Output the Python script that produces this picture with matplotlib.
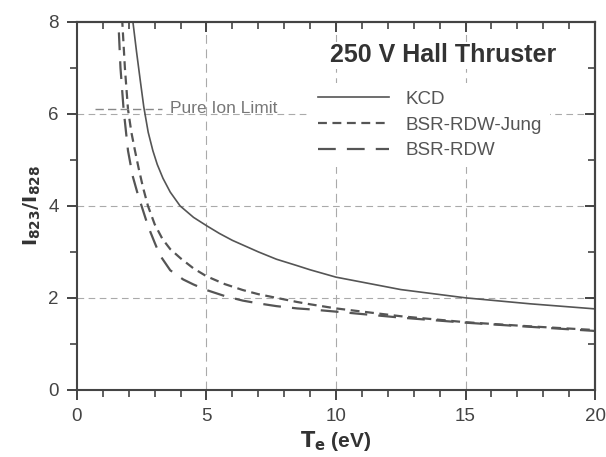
import matplotlib

matplotlib.use('Agg')
import matplotlib.pyplot as plt

plt.rcParams['font.family'] = ['Liberation Sans', 'DejaVu Sans']

# values
te_kcd = [2.08, 2.16, 2.3, 2.45, 2.58, 2.75, 2.93, 3.1, 3.32, 3.6, 3.98, 4.5, 5.0, 5.5, 6.0,
          7.0, 7.7, 8.5, 9.0, 10.0, 12.5, 15.0, 17.5, 20.0]
r_kcd = [8.4, 8.0, 7.35, 6.7, 6.15, 5.6, 5.2, 4.9, 4.6, 4.3, 4.0, 3.75, 3.57, 3.4, 3.25,
         3.0, 2.84, 2.7, 2.61, 2.45, 2.18, 2.0, 1.87, 1.76]

te_jung = [1.71, 1.75, 1.85, 1.97, 2.1, 2.24, 2.38, 2.55, 2.74, 3.0, 3.3, 3.6, 4.0, 4.5,
           5.0, 5.7, 6.4, 7.0, 7.7, 8.5, 9.0, 10.0, 12.5, 15.0, 17.5, 20.0]
r_jung = [8.4, 8.0, 7.0, 6.1, 5.6, 5.2, 4.82, 4.4, 4.0, 3.6, 3.28, 3.06, 2.86, 2.64,
          2.47, 2.3, 2.17, 2.08, 2.0, 1.91, 1.86, 1.77, 1.6, 1.47, 1.38, 1.30]

te_bsr = [1.57, 1.60, 1.68, 1.80, 1.97, 2.15, 2.35, 2.55, 2.75, 3.0, 3.2, 3.6, 4.1, 4.5,
          5.0, 5.7, 6.4, 7.0, 7.7, 8.5, 9.0, 10.0, 12.5, 15.0, 17.5, 20.0]
r_bsr = [8.4, 8.0, 7.0, 6.1, 5.2, 4.65, 4.25, 3.9, 3.55, 3.2, 2.93, 2.6, 2.40, 2.29,
         2.17, 2.04, 1.94, 1.88, 1.82, 1.77, 1.75, 1.70, 1.57, 1.46, 1.37, 1.28]

ion_te = [0.7, 3.3]
ion_r = [6.1, 6.1]

x_ticks = [0, 5, 10, 15, 20]
y_ticks = [0, 2, 4, 6, 8]

fig = plt.figure(figsize=(6.06, 4.57), dpi=100)
ax = fig.add_axes([0.127, 0.147, 0.855, 0.805])

ax.set_xlim(0, 20)
ax.set_ylim(0, 8)
ax.set_xticks(x_ticks)
ax.set_yticks(y_ticks)
ax.set_xticks(range(0, 21), minor=True)
ax.set_yticks(range(0, 9), minor=True)

for v in [5, 10, 15]:
    ax.axvline(v, color='#aaaaaa', lw=0.8, ls=(0, (8, 5)), zorder=0)
for v in [2, 4, 6]:
    ax.axhline(v, color='#aaaaaa', lw=0.8, ls=(0, (6, 4)), zorder=0)

dark = '#555555'
ax.plot(te_kcd, r_kcd, color=dark, lw=1.2, label='KCD')
ax.plot(te_jung, r_jung, color=dark, lw=1.6, ls=(0, (4, 2.5)), label='BSR-RDW-Jung')
ax.plot(te_bsr, r_bsr, color=dark, lw=1.6, ls=(0, (8, 5)), label='BSR-RDW')

ax.plot(ion_te, ion_r, color='#888888', lw=1.0, ls=(0, (6, 3)))
ax.text(3.6, 6.12, 'Pure Ion Limit', fontsize=12.5, color='#777777', va='center', ha='left')

ax.text(14.13, 7.28, '250 V Hall Thruster', fontsize=18, fontweight='bold',
        color='#333333', ha='center', va='center',
        bbox=dict(facecolor='white', edgecolor='none', pad=1))
leg = ax.legend(loc='upper left', bbox_to_anchor=(0.45, 0.833), frameon=True,
                fontsize=13.5, handlelength=3.8, handletextpad=0.9,
                labelspacing=0.45, borderaxespad=0)
leg.get_frame().set_edgecolor('none')
leg.get_frame().set_facecolor('white')
leg.get_frame().set_alpha(1)
for t in leg.get_texts():
    t.set_color('#555555')

for s in ax.spines.values():
    s.set_color('#444444')
    s.set_linewidth(1.5)

ax.tick_params(axis='both', which='major', direction='out', length=7, width=1.4,
               color='#444444', labelsize=13.5, labelcolor='#444444', pad=6)
ax.tick_params(axis='both', which='minor', direction='out', length=5, width=1.2,
               color='#444444')

top = ax.secondary_xaxis('top')
top.set_xticks(x_ticks)
top.set_xticks(range(0, 21), minor=True)
top.tick_params(which='major', direction='in', length=7, width=1.4, color='#444444', labeltop=False)
top.tick_params(which='minor', direction='in', length=5, width=1.2, color='#444444')
top.spines['top'].set_linewidth(1.5)
top.spines['top'].set_color('#444444')

right = ax.secondary_yaxis('right')
right.set_yticks(y_ticks)
right.set_yticks(range(0, 9), minor=True)
right.tick_params(which='major', direction='in', length=7, width=1.4, color='#444444', labelright=False)
right.tick_params(which='minor', direction='in', length=5, width=1.2, color='#444444')
right.spines['right'].set_linewidth(1.5)
right.spines['right'].set_color('#444444')

ax.set_xlabel(r'$\mathbf{T_e}$ (eV)', fontsize=15, fontweight='bold', color='#333333', labelpad=3)
ax.set_ylabel(r'$\mathbf{I_{823}/I_{828}}$', fontsize=14, fontweight='bold', color='#333333', labelpad=4)

fig.savefig('out.png', dpi=100)
